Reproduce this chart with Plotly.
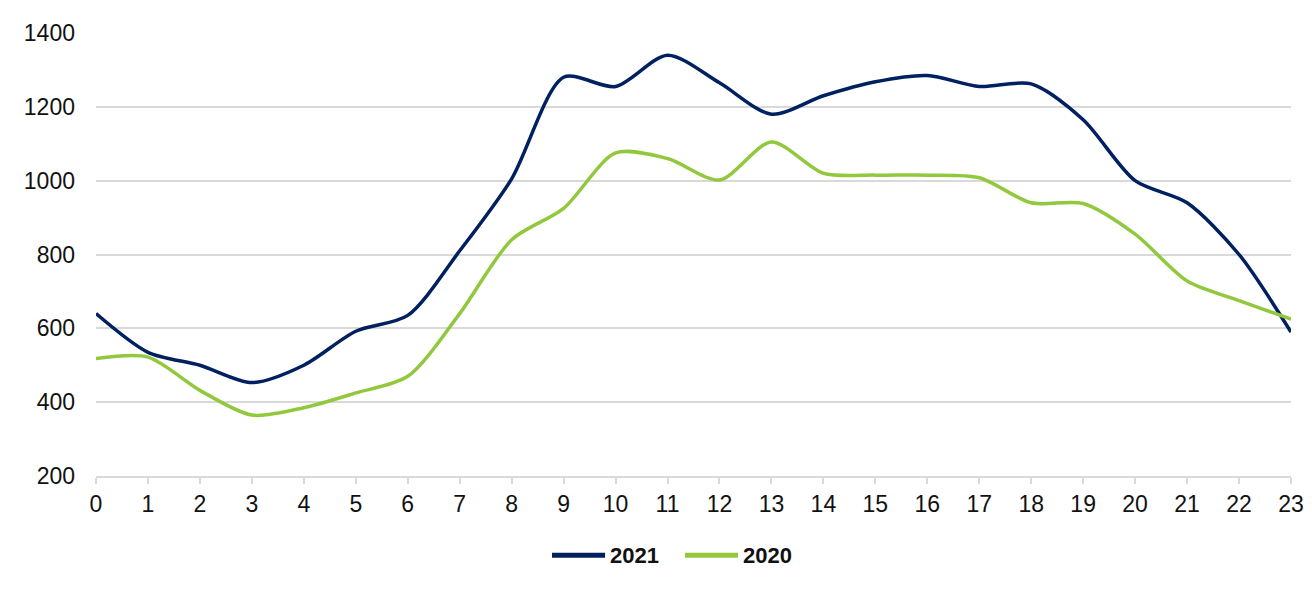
import plotly.graph_objects as go

hours = list(range(24))
tick_labels = [str(h) for h in hours]

# hourly values
values_2021 = [640, 535, 500, 453, 500, 592, 635, 810, 1005, 1280, 1255, 1340,
               1265, 1180, 1230, 1268, 1285, 1255, 1262, 1165, 1000, 940, 800, 590]
values_2020 = [518, 522, 432, 365, 385, 425, 470, 640, 840, 925, 1075, 1060,
               1002, 1105, 1020, 1015, 1015, 1008, 940, 938, 855, 728, 675, 625]

series = [("2021", values_2021, "#002060"), ("2020", values_2020, "#92C83E")]

fig = go.Figure()
for name, vals, color in series:
    fig.add_trace(go.Scatter(x=hours, y=vals, name=name, mode="lines",
                             line=dict(color=color, width=3.5, shape="spline", smoothing=0.8)))

# Excel-style legend: longer line samples than plotly's, drawn by hand below the axis
legend_shapes = []
legend_notes = []
leg_y = -0.179
for i, (name, vals, color) in enumerate(series):
    x0 = 0.3816 + i * 0.1113
    legend_shapes.append(dict(type="line", xref="paper", yref="paper",
                              x0=x0, x1=x0 + 0.0444, y0=leg_y, y1=leg_y,
                              line=dict(color=color, width=5)))
    legend_notes.append(dict(xref="paper", yref="paper", x=x0 + 0.0466, y=leg_y,
                             xanchor="left", yanchor="middle", showarrow=False,
                             text=f"<b>{name}</b>",
                             font=dict(size=22, color="#111111")))

# page body adds an 8px offset, margins are set to compensate
fig.update_layout(
    width=1312, height=592,
    margin=dict(l=88, r=29, t=21, b=124),
    paper_bgcolor="white", plot_bgcolor="white",
    font=dict(family="Liberation Sans, Arial", size=23, color="#111111"),
    showlegend=False,
    shapes=legend_shapes,
    annotations=legend_notes,
)
fig.update_xaxes(range=[0, 23], tickvals=hours, ticktext=tick_labels,
                 showgrid=False, zeroline=False,
                 showline=True, linecolor="#d9d9d9", linewidth=2,
                 ticks="outside", ticklen=6, tickcolor="#d9d9d9", tickwidth=2)
fig.update_yaxes(range=[200, 1400], dtick=200, showgrid=True, gridcolor="#d9d9d9",
                 gridwidth=1.5, zeroline=False, showline=False,
                 ticklabelstandoff=20)

fig.write_html("out.html")
